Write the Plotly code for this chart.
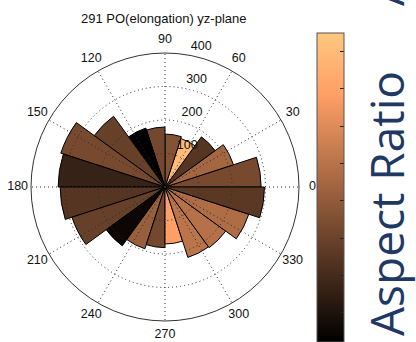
import plotly.graph_objects as go

# ---- data ----
bin_centers = [9, 27, 45, 63, 81, 99, 117, 135, 153, 171,
               189, 207, 225, 243, 261, 279, 297, 315, 333, 351]
bin_width = 18
counts = [287, 215, 185, 152, 158, 179, 185, 261, 327, 319,
          313, 292, 217, 194, 181, 170, 221, 224, 263, 297]
aspect_ratio = [2.66, 3.25, 2.23, 5.0, 2.83, 2.62, 1.08, 2.45, 2.66, 1.81,
                2.23, 2.45, 1.26, 3.08, 2.62, 4.44, 3.55, 3.47, 3.38, 2.28]
rho_ticks = [100, 200, 300, 400]
rho_labels = ["100", "200", "300", "400"]
theta_ticks = [0, 30, 60, 90, 120, 150, 180, 210, 240, 270, 300, 330]
theta_labels = ["0", "30", "60", "90", "120", "150", "180", "210", "240", "270", "300", "330"]
cbar_ticks = [1.5, 2.0, 2.5, 3.0, 3.5, 4.0, 4.5, 5.0]
c_min, c_max = 1.11, 5.25
rho_max = 400
label_rho_max = 460  # outer range of the label layer

# MATLAB "copper" colormap (piecewise linear)
copper = [[0.0, "rgb(0,0,0)"], [0.8, "rgb(255,159,102)"], [1.0, "rgb(255,199,127)"]]

W, H = 416, 342
cx, cy, rad = 165, 187, 134
dom_x = [(cx - rad) / W, (cx + rad) / W]
dom_y = [1 - (cy + rad) / H, 1 - (cy - rad) / H]
rad2 = rad * label_rho_max / rho_max
dom2_x = [(cx - rad2) / W, (cx + rad2) / W]
dom2_y = [1 - (cy + rad2) / H, 1 - (cy - rad2) / H]

FONT = "Liberation Sans, Arial, sans-serif"
BIGFONT = "Open Sans, Noto Sans, sans-serif"
GRID = "#2a2a2a"
DOTS = "1px,3px"

fig = go.Figure()

fig.add_trace(go.Barpolar(
    r=counts, theta=bin_centers, width=[bin_width] * len(counts),
    marker=dict(
        color=aspect_ratio, colorscale=copper, cmin=c_min, cmax=c_max,
        line=dict(color="black", width=1),
        showscale=True,
        colorbar=dict(
            x=317 / W, xanchor="left", xpad=0,
            y=1 - 33 / H, yanchor="top", ypad=0,
            lenmode="pixels", len=309,
            thicknessmode="pixels", thickness=27,
            outlinewidth=1, outlinecolor="#555",
            ticks="inside", ticklen=4, tickcolor="#222",
            tickvals=cbar_ticks, showticklabels=False,
        ),
    ),
    subplot="polar", hoverinfo="skip",
))

# rings (dotted) + labels on a wider layer drawn above the bars
fig.add_trace(go.Scatterpolar(
    r=[v + rho_max / 80 for v in rho_ticks], theta=[82] * len(rho_ticks),
    text=["\u00a0\u00a0" + t for t in rho_labels], mode="text",
    textposition="top right", textfont=dict(family=FONT, size=12.5, color="#111"),
    cliponaxis=False, subplot="polar2", hoverinfo="skip", showlegend=False,
))
fig.add_trace(go.Scatterpolar(
    r=[1.1 * rho_max] * len(theta_ticks), theta=theta_ticks,
    text=theta_labels, mode="text", textposition="middle center",
    textfont=dict(family=FONT, size=12.5, color="#111"),
    cliponaxis=False, subplot="polar2", hoverinfo="skip", showlegend=False,
))
# spokes + outer circle layer
fig.add_trace(go.Scatterpolar(r=[], theta=[], mode="markers", subplot="polar3",
                              hoverinfo="skip", showlegend=False))

fig.update_layout(
    width=W, height=H,
    margin=dict(l=0, r=0, t=0, b=0),
    paper_bgcolor="white",
    showlegend=False,
    hovermode=False,
    polar=dict(
        domain=dict(x=dom_x, y=dom_y),
        bgcolor="white",
        radialaxis=dict(range=[0, rho_max], visible=False, showgrid=False),
        angularaxis=dict(showgrid=False, showline=False, showticklabels=False,
                         ticks="", rotation=0, direction="counterclockwise"),
    ),
    polar2=dict(
        domain=dict(x=dom2_x, y=dom2_y),
        bgcolor="rgba(0,0,0,0)",
        radialaxis=dict(range=[0, label_rho_max], tickvals=rho_ticks[:-1], showticklabels=False,
                        ticks="", showline=False, showgrid=True,
                        gridcolor=GRID, griddash=DOTS, gridwidth=1),
        angularaxis=dict(showgrid=False, showline=False, showticklabels=False, ticks="",
                         rotation=0, direction="counterclockwise"),
    ),
    polar3=dict(
        domain=dict(x=dom_x, y=dom_y),
        bgcolor="rgba(0,0,0,0)",
        radialaxis=dict(range=[0, rho_max], visible=False, showgrid=False),
        angularaxis=dict(tickvals=theta_ticks, showticklabels=False, ticks="",
                         showgrid=True, gridcolor=GRID, griddash=DOTS, gridwidth=1,
                         showline=True, linecolor="#333", linewidth=1,
                         rotation=0, direction="counterclockwise"),
    ),
    annotations=[
        dict(text="291 PO(elongation) yz-plane", xref="paper", yref="paper",
             x=164 / W, xanchor="center", y=1 - 18.5 / H, yanchor="middle",
             showarrow=False, font=dict(family=FONT, size=13, color="#111")),
        dict(text="Aspect Ratio", textangle=-90, xref="paper", yref="paper",
             x=386 / W, xanchor="center", y=1 - 204 / H, yanchor="middle",
             showarrow=False, font=dict(family=BIGFONT, size=46, color="#203864")),
        dict(text="A", textangle=-90, xref="paper", yref="paper",
             x=386 / W, xanchor="center", y=1 - 8 / H, yanchor="bottom",
             showarrow=False, font=dict(family=BIGFONT, size=46, color="#203864")),
    ],
)

fig.write_html("out.html", config={"displayModeBar": False},
               post_script="document.body.style.margin='0px';")
